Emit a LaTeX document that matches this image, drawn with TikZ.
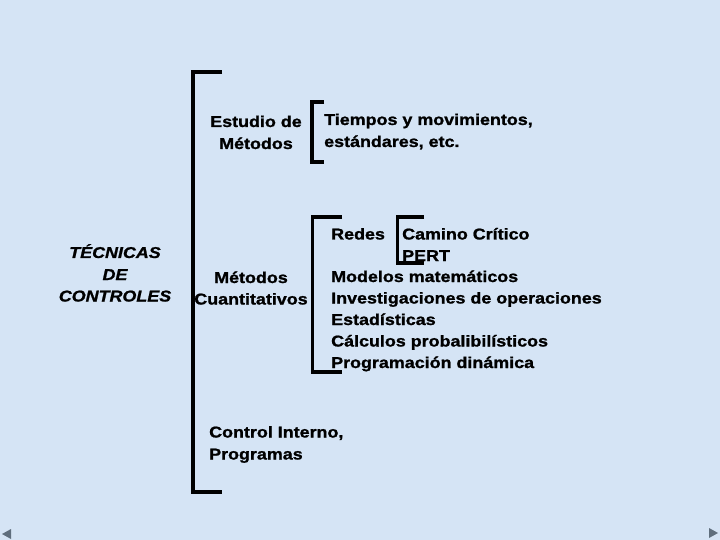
\documentclass[tikz,border=0pt]{standalone}
\usepackage{fontspec}
\setmainfont{Liberation Sans}[FakeStretch=1.14,FakeBold=1.2]
\usepackage{tikz}

\definecolor{slideblue}{RGB}{213,228,245}
\definecolor{navgray}{RGB}{95,110,125}

\begin{document}
\begin{tikzpicture}[x=1pt,y=-1pt,
  txt/.style={inner sep=0pt,font=\fontsize{15.7}{21.5}\selectfont\bfseries},
  lft/.style={txt,anchor=base west},
  mid/.style={txt,anchor=base},
  brace/.style={line width=3.2pt,line join=miter}]
\fill[slideblue] (0,0) rectangle (720,540);
\useasboundingbox (0,0) rectangle (720,540);

% left column
\node [mid,font=\fontsize{15.7}{21.5}\selectfont\bfseries\itshape] (tec1) at (115,258) {TÉCNICAS};
\node [mid,font=\fontsize{15.7}{21.5}\selectfont\bfseries\itshape] (tec2) at (115,280) {DE};
\node [mid,font=\fontsize{15.7}{21.5}\selectfont\bfseries\itshape] (tec3) at (115,301.5) {CONTROLES};

% big bracket
\draw [brace] (222,72) -- (193,72) -- (193,492) -- (222,492);

% estudio de metodos
\node [mid] (est1) at (256,127) {Estudio de};
\node [mid] (est2) at (256,149) {Métodos};
\draw [brace] (324,102) -- (312,102) -- (312,162) -- (324,162);
\node [lft] (tie1) at (324,125) {Tiempos y movimientos,};
\node [lft] (tie2) at (324,147) {estándares, etc.};

% metodos cuantitativos
\node [mid] (cua1) at (251,283) {Métodos};
\node [mid] (cua2) at (251,304.5) {Cuantitativos};
\draw [brace] (342,217) -- (312.5,217) -- (312.5,372) -- (342,372);
\node [lft] (red) at (331,239.5) {Redes};
\draw [brace] (424,217) -- (397.5,217) -- (397.5,263) -- (424,263);
\node [lft] (cam) at (402,239.5) {Camino Crítico};
\node [lft] (per) at (402,261) {PERT};
\node [lft] (mod) at (331,282) {Modelos matemáticos};
\node [lft] (inv) at (331,303.5) {Investigaciones de operaciones};
\node [lft] (esd) at (331,325) {Estadísticas};
\node [lft] (cal) at (331,346.5) {Cálculos probalibilísticos};
\node [lft] (pro) at (331,368) {Programación dinámica};

% control interno
\node [lft] (con1) at (209,437.5) {Control Interno,};
\node [lft] (con2) at (209,459.5) {Programas};

% slide arrows
\fill [navgray] (2,534) -- (11,529) -- (11,539) -- cycle;
\fill [navgray] (709,528) -- (718,533) -- (709,538) -- cycle;
\end{tikzpicture}
\end{document}
